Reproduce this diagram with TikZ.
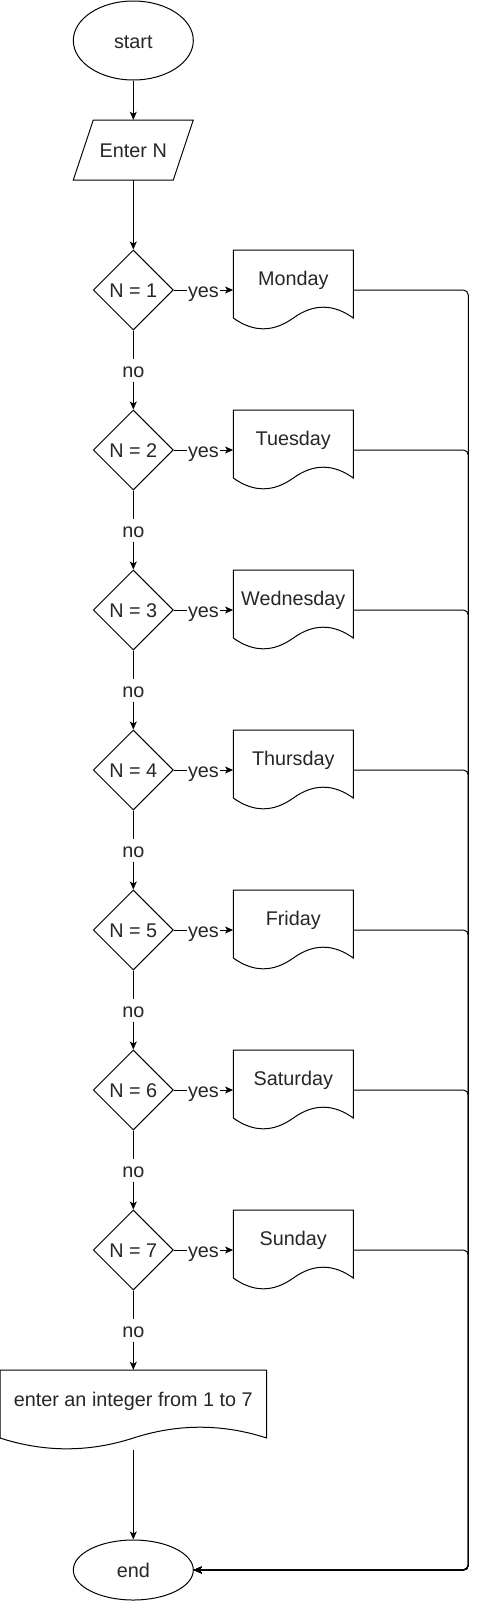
\documentclass[tikz,border=0pt]{standalone}
\usepackage{fontspec}
\setmainfont{Liberation Sans}
\usetikzlibrary{arrows.meta,shapes.geometric}
\newcommand\drawdoc[3]{%
  \draw[shapeline] (#1,#2) -- (#1+#3,#2) -- (#1+#3,#2+68)
    .. controls (#1+5*#3/6,#2+53.6) and (#1+2*#3/3,#2+53.6) .. (#1+#3/2,#2+68)
    .. controls (#1+#3/3,#2+82.4) and (#1+#3/6,#2+82.4) .. (#1,#2+68) -- cycle;}
\begin{document}
\begin{tikzpicture}[x=1pt,y=-1pt,
  every node/.style={font=\fontsize{19.8}{22}\selectfont, text=black!85, text height=18pt, text depth=3pt},
  shapeline/.style={draw=black, line width=1pt, line join=miter},
  term/.style={ellipse, draw=black, line width=1pt, minimum width=120pt, inner sep=0pt},
  dia/.style={diamond, draw=black, line width=1pt, minimum width=80pt, minimum height=80pt, inner sep=0pt},
  box/.style={rectangle, inner sep=0pt},
  lbl/.style={fill=white, inner sep=1pt},
  arr/.style={draw=black, line width=1pt, -{Stealth[length=8pt,width=7pt,inset=2pt]}},
  bus/.style={draw=black, line width=1pt, rounded corners=5pt, -{Stealth[length=8pt,width=7pt,inset=2pt]}}]
\useasboundingbox (0,0) rectangle (478,1601);

% start
\node[term, minimum height=79pt] (start) at (133.3,40.5) {start};

% Enter N
\draw[shapeline] (93.3,120) -- (193.3,120) -- (173.3,180) -- (73.3,180) -- cycle;
\node[box, minimum width=120pt, minimum height=60pt] (enter) at (133.3,150) {Enter N};

% end
\node[term, minimum height=60pt] (end) at (133.3,1570) {end};

% error document
\drawdoc{0}{1370}{266.7}
\node[box, minimum width=266.7pt, minimum height=80pt] (err) at (133.3,1410) {};
\node (errtxt) at (133.3,1399) {enter an integer from 1 to 7};

\coordinate (busR) at (468.3,0);
\coordinate (busB) at (468.3,1570);

\foreach \k/\day in {1/Monday,2/Tuesday,3/Wednesday,4/Thursday,5/Friday,6/Saturday,7/Sunday} {
  \pgfmathsetmacro\cy{290+160*(\k-1)}
  \node[dia] (d\k) at (133.3,\cy) {N = \k};
  \drawdoc{233.3}{\cy-40}{120}
  \node[box, minimum width=120pt, minimum height=80pt] (doc\k) at (293.3,\cy) {};
  \node (txt\k) at (293.3,\cy-12) {\day};
  \draw[arr] (d\k.east) -- node[lbl] {yes} (doc\k.west);
  \draw[bus] (doc\k.east) -- (doc\k.east -| busR) -- (busB) -- (end.east);
}

\draw[arr] (start.south) -- (enter.north);
\draw[arr] (enter.south) -- (d1.north);
\foreach \a/\b in {1/2,2/3,3/4,4/5,5/6,6/7} {
  \draw[arr] (d\a.south) -- node[lbl] {no} (d\b.north);
}
\draw[arr] (d7.south) -- node[lbl] {no} (err.north);
\draw[arr] (err.south) -- (end.north);
\end{tikzpicture}
\end{document}
